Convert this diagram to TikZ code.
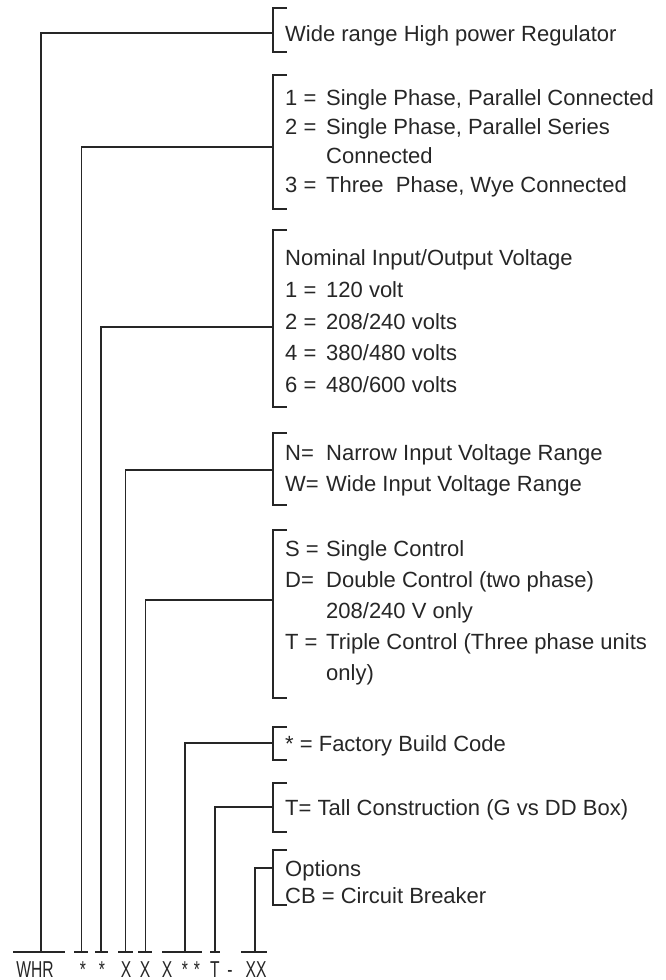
\documentclass[tikz,border=0pt]{standalone}
\usepackage{fontspec}
\setmainfont{Liberation Sans}
\usepackage{graphicx}
\newcommand\lbl[2]{\makebox[41pt][l]{#1}#2}
\newcommand\cnd[1]{\scalebox{0.68}[1]{#1}}
\begin{document}
\begin{tikzpicture}[x=1pt,y=-1pt,
  ink/.style={draw=black!85, line width=1.6pt},
  txt/.style={anchor=north west, inner sep=0pt, align=left, text=black!85,
    font=\fontsize{22}{#1}\selectfont},
  txt/.default=31,
  code/.style={anchor=base, inner sep=0pt, text=black!85, font=\fontsize{23}{23}\selectfont}]
\useasboundingbox (0,0) rectangle (665,980);

% brackets
\draw[ink] (287,8) -- (273,8) -- (273,52) -- (287,52);
\draw[ink] (287,75) -- (273,75) -- (273,209) -- (287,209);
\draw[ink] (287,230) -- (273,230) -- (273,407) -- (287,407);
\draw[ink] (287,433) -- (273,433) -- (273,505) -- (287,505);
\draw[ink] (287,530) -- (273,530) -- (273,698) -- (287,698);
\draw[ink] (287,727) -- (273,727) -- (273,760) -- (287,760);
\draw[ink] (287,783) -- (273,783) -- (273,832) -- (287,832);
\draw[ink] (287,850) -- (273,850) -- (273,905) -- (287,905);

\coordinate (b1) at (273,33);
\coordinate (b2) at (273,147);
\coordinate (b3) at (273,327);
\coordinate (b4) at (273,470);
\coordinate (b5) at (273,600);
\coordinate (b6) at (273,743);
\coordinate (b7) at (273,807);
\coordinate (b8) at (273,868);

% texts
\node[txt] (d1) at (285,25) {Wide range High power Regulator};
\node[txt=29] (d2) at (285,89.5) {\lbl{1 =}{Single Phase, Parallel Connected}\\
  \lbl{2 =}{Single Phase, Parallel Series}\\
  \lbl{}{Connected}\\
  \lbl{3 =}{Three\ \ Phase, Wye Connected}};
\node[txt=31.75] (d3) at (285,249.5) {Nominal Input/Output Voltage\\
  \lbl{1 =}{120 volt}\\
  \lbl{2 =}{208/240 volts}\\
  \lbl{4 =}{380/480 volts}\\
  \lbl{6 =}{480/600 volts}};
\node[txt=31] (d4) at (285,444.5) {\lbl{N=}{Narrow Input Voltage Range}\\
  \lbl{W=}{Wide Input Voltage Range}};
\node[txt=31] (d5) at (285,540.5) {\lbl{S =}{Single Control}\\
  \lbl{D=}{Double Control (two phase)}\\
  \lbl{}{208/240 V only}\\
  \lbl{T =}{Triple Control (Three phase units}\\
  \lbl{}{only)}};
\node[txt] (d6) at (285,735) {* = Factory Build Code};
\node[txt] (d7) at (285,799.5) {T= Tall Construction (G vs DD Box)};
\node[txt=27] (d8) at (285,860) {Options\\CB = Circuit Breaker};

% underlines
\draw[ink] (13,952) -- (65,952);
\draw[ink] (74,952) -- (88,952);
\draw[ink] (95,952) -- (108,952);
\draw[ink] (118,952) -- (133,952);
\draw[ink] (138,952) -- (152,952);
\draw[ink] (162,952) -- (202,952);
\draw[ink] (210,952) -- (220,952);
\draw[ink] (241,952) -- (267,952);

\coordinate (c1) at (41,952);
\coordinate (c2) at (81.5,952);
\coordinate (c3) at (101,952);
\coordinate (c4) at (125.5,952);
\coordinate (c5) at (145.5,952);
\coordinate (c6) at (185,952);
\coordinate (c7) at (215,952);
\coordinate (c8) at (255,952);

\draw[ink] (c1) |- (b1);
\draw[ink] (c2) |- (b2);
\draw[ink] (c3) |- (b3);
\draw[ink] (c4) |- (b4);
\draw[ink] (c5) |- (b5);
\draw[ink] (c6) |- (b6);
\draw[ink] (c7) |- (b7);
\draw[ink] (c8) |- (b8);

% code letters
\node[code] (k1) at (35,977) {\cnd{WHR}};
\node[code] (k2) at (83,977) {\cnd{*}};
\node[code] (k3) at (102,977) {\cnd{*}};
\node[code] (k4) at (126,977) {\cnd{X}};
\node[code] (k5) at (145,977) {\cnd{X}};
\node[code] (k6) at (167,977) {\cnd{X}};
\node[code] (k7) at (185,977) {\cnd{*}};
\node[code] (k8) at (197,977) {\cnd{*}};
\node[code] (k9) at (215,977) {\cnd{T}};
\node[code] (k10) at (230,977) {\cnd{-}};
\node[code] (k11) at (256,977) {\cnd{XX}};
\end{tikzpicture}
\end{document}
